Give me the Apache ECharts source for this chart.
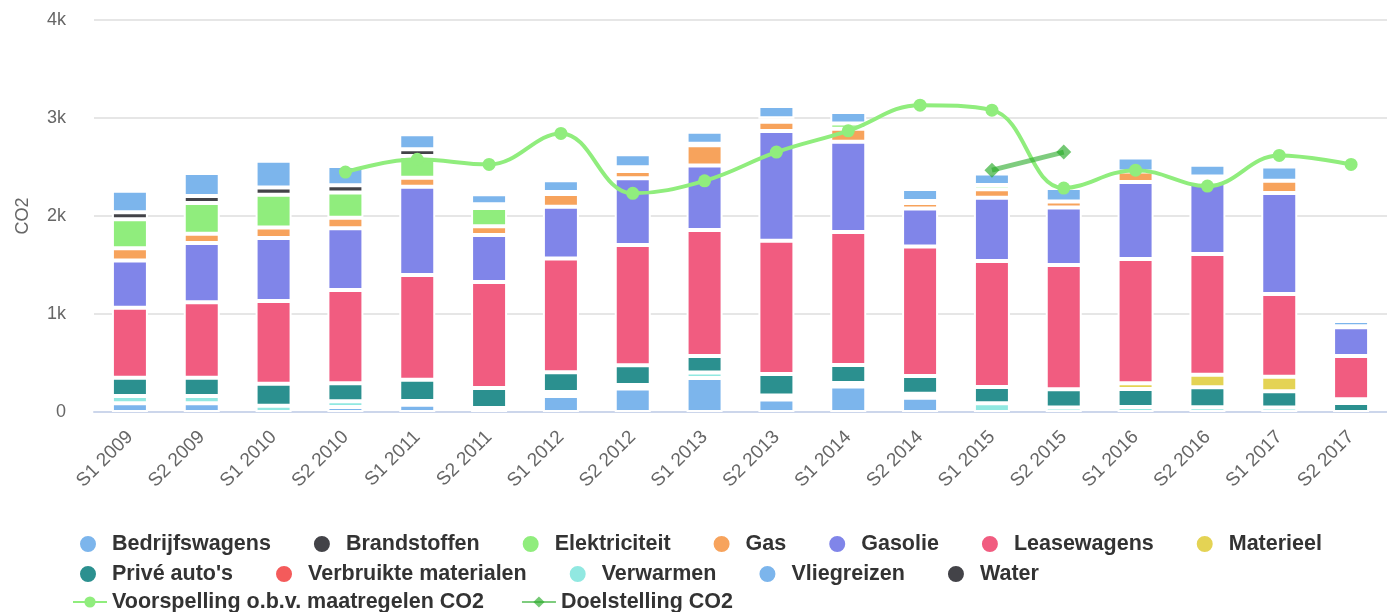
<!DOCTYPE html>
<html>
<head>
<meta charset="utf-8">
<script src="https://cdn.jsdelivr.net/npm/echarts@6/dist/echarts.min.js"></script>
<style>
  html, body { margin: 0; padding: 0; background: #fff; }
  #chart { width: 1387px; height: 612px; }
</style>
</head>
<body>
<div id="chart"></div>
<script>
// Half-year periods
const categories = ['S1 2009', 'S2 2009', 'S1 2010', 'S2 2010', 'S1 2011', 'S2 2011',
  'S1 2012', 'S2 2012', 'S1 2013', 'S2 2013', 'S1 2014', 'S2 2014',
  'S1 2015', 'S2 2015', 'S1 2016', 'S2 2016', 'S1 2017', 'S2 2017'];

// CO2 per source
const bedrijfswagens = [219, 233, 272, 194, 151, 102, 122, 133, 122, 124, 117, 122, 117, 138, 143, 122, 146, 54];
const brandstoffen = [71, 73, 74, 74, 71, 39, 0, 0, 0, 0, 0, 0, 0, 0, 0, 0, 0, 0];
const elektriciteit = [296, 313, 334, 259, 221, 186, 20, 40, 15, 37, 53, 20, 43, 0, 0, 20, 0, 0];
const gas = [126, 95, 107, 108, 92, 89, 130, 74, 207, 94, 134, 56, 88, 59, 109, 38, 125, 10];
const gasolie = [483, 604, 644, 629, 901, 480, 528, 680, 660, 1119, 920, 388, 645, 587, 786, 732, 1030, 293];
const leasewagens = [714, 771, 843, 952, 1068, 1083, 1161, 1227, 1285, 1360, 1357, 1321, 1285, 1270, 1267, 1231, 846, 442];
const materieel = [0, 0, 0, 0, 0, 0, 0, 0, 0, 0, 0, 0, 0, 0, 59, 129, 148, 38];
const priveAutos = [186, 186, 224, 183, 216, 204, 201, 201, 168, 219, 184, 182, 166, 186, 184, 204, 166, 92];
const verbruikteMaterialen = [0, 0, 0, 0, 0, 0, 0, 0, 0, 0, 0, 0, 0, 0, 0, 0, 0, 0];
const verwarmen = [73, 73, 65, 59, 39, 40, 41, 36, 56, 41, 36, 40, 89, 45, 50, 48, 45, 0];
const vliegreizen = [90, 90, 0, 51, 74, 0, 163, 240, 347, 128, 260, 146, 0, 0, 0, 0, 0, 0];
const water = [0, 0, 0, 0, 0, 0, 0, 0, 0, 0, 0, 0, 0, 0, 0, 0, 0, 0];

// Forecast and target lines
const voorspelling = [null, null, null, 2448, 2578, 2526, 2843, 2231, 2359, 2652, 2869, 3131, 3080, 2285, 2468, 2305, 2618, 2526];
const doelstelling = [null, null, null, null, null, null, null, null, null, null, null, null, 2468, 2652, null, null, null, null];

// Y-axis ticks
const yTicks = [0, 1000, 2000, 3000, 4000];
const yTickLabels = ['0', '1k', '2k', '3k', '4k'];

const FONT = '"Liberation Sans", Arial, Helvetica, sans-serif';

// Stack: listed bottom to top
const barSeries = [
  { name: 'Water', data: water, color: '#434348' },
  { name: 'Vliegreizen', data: vliegreizen, color: '#7cb5ec' },
  { name: 'Verwarmen', data: verwarmen, color: '#91e8e1' },
  { name: 'Verbruikte materialen', data: verbruikteMaterialen, color: '#f45b5b' },
  { name: "Privé auto's", data: priveAutos, color: '#2b908f' },
  { name: 'Materieel', data: materieel, color: '#e4d354' },
  { name: 'Leasewagens', data: leasewagens, color: '#f15c80' },
  { name: 'Gasolie', data: gasolie, color: '#8085e9' },
  { name: 'Gas', data: gas, color: '#f7a35c' },
  { name: 'Elektriciteit', data: elektriciteit, color: '#90ed7d' },
  { name: 'Brandstoffen', data: brandstoffen, color: '#434348' },
  { name: 'Bedrijfswagens', data: bedrijfswagens, color: '#7cb5ec' }
];

const legendRow1 = ['Bedrijfswagens', 'Brandstoffen', 'Elektriciteit', 'Gas', 'Gasolie', 'Leasewagens', 'Materieel'];
const legendRow2 = ["Privé auto's", 'Verbruikte materialen', 'Verwarmen', 'Vliegreizen', 'Water'];
const legendRow3 = ['Voorspelling o.b.v. maatregelen CO2', 'Doelstelling CO2'];

const legendText = { fontSize: 21.5, fontWeight: 'bold', color: '#333', fontFamily: FONT };

const series = barSeries.map(s => ({
  name: s.name,
  type: 'bar',
  stack: 'co2',
  barWidth: 36,
  data: s.data.map(v => (v === 0 ? null : v)),
  itemStyle: { color: s.color, borderColor: '#ffffff', borderWidth: 2 }
}));

series.push({
  name: legendRow3[0],
  type: 'line',
  data: voorspelling,
  smooth: 0.4,
  symbol: 'circle',
  symbolSize: 13,
  z: 5,
  lineStyle: { color: '#90ed7d', width: 4 },
  itemStyle: { color: '#90ed7d' }
});
series.push({
  name: legendRow3[1],
  type: 'line',
  data: doelstelling,
  symbol: 'diamond',
  symbolSize: 15,
  z: 6,
  lineStyle: { color: '#28aa28', width: 5, opacity: 0.6 },
  itemStyle: { color: '#28aa28', opacity: 0.65 }
});

const chart = echarts.init(document.getElementById('chart'), null, { renderer: 'canvas' });
chart.setOption({
  animation: false,
  backgroundColor: '#ffffff',
  textStyle: { fontFamily: FONT },
  grid: { left: 94, right: -4, top: 20, bottom: 200, containLabel: false },
  legend: [
    { data: legendRow1, left: 73, top: 528, icon: 'circle', itemWidth: 38, itemHeight: 18, itemGap: 41, textStyle: legendText },
    { data: legendRow2, left: 73, top: 558, icon: 'circle', itemWidth: 38, itemHeight: 18, itemGap: 41, textStyle: legendText },
    { data: legendRow3, left: 67, top: 586, itemWidth: 34, itemHeight: 14, itemGap: 37, textStyle: legendText }
  ],
  xAxis: {
    type: 'category',
    data: categories,
    axisLine: { lineStyle: { color: '#ccd6eb', width: 2 } },
    axisTick: { length: 16, lineStyle: { color: '#ccd6eb', width: 2 } },
    axisLabel: { rotate: 45, fontSize: 19, color: '#666', margin: 22, fontFamily: FONT }
  },
  yAxis: {
    type: 'value',
    min: yTicks[0],
    max: yTicks[yTicks.length - 1],
    interval: 1000,
    name: 'CO2',
    nameLocation: 'middle',
    nameGap: 62,
    nameTextStyle: { fontSize: 18, color: '#666', fontFamily: FONT },
    axisLine: { show: false },
    axisTick: { show: false },
    axisLabel: {
      fontSize: 18,
      color: '#666',
      margin: 28,
      fontFamily: FONT,
      formatter: v => yTickLabels[yTicks.indexOf(v)]
    },
    splitLine: { lineStyle: { color: '#e6e6e6', width: 2 } }
  },
  series: series
});
</script>
</body>
</html>
